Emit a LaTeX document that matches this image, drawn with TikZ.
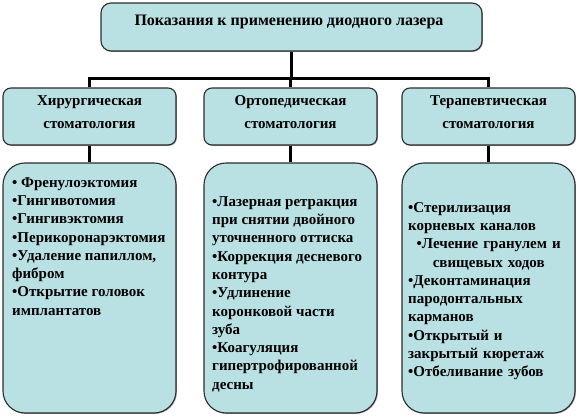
\documentclass[tikz,border=0pt]{standalone}
\usepackage{fontspec}
\setmainfont{Liberation Serif}
\usetikzlibrary{shadows}
\definecolor{boxfill}{RGB}{185,224,227}
\definecolor{boxline}{RGB}{45,45,45}
\begin{document}
\begin{tikzpicture}[x=1pt,y=1pt,
  box/.style={draw=boxline, line width=1.1pt, fill=boxfill, inner sep=0pt,
    drop shadow={shadow xshift=0.9pt, shadow yshift=-0.9pt, opacity=0.55, fill=black!70}},
  topbox/.style={box, rounded corners=10pt, minimum width=381pt, minimum height=48pt},
  midbox/.style={box, rounded corners=8pt, minimum width=173pt, minimum height=57pt},
  lowbox/.style={box, rounded corners=22pt, minimum width=173pt, minimum height=250pt},
  conn/.style={draw=black, line width=2.6pt},
  txt/.style={inner sep=0pt, font=\bfseries\fontsize{15}{18.3}\selectfont},
  ltxt/.style={txt, anchor=north west, align=left},
  mtxt/.style={inner sep=0pt, font=\bfseries\fontsize{15}{23}\selectfont, align=center, anchor=north}
]
\useasboundingbox[fill=white] (0,0) rectangle (579,-417);

% boxes
\node[topbox] (top) at (291.5,-27) {};
\node[midbox] (sa) at (89.5,-116.5) {};
\node[midbox] (sb) at (290.5,-116.5) {};
\node[midbox] (sc) at (488.5,-116.5) {};
\node[lowbox] (la) at (89.5,-288) {};
\node[lowbox] (lb) at (290.5,-288) {};
\node[lowbox] (lc) at (488.5,-288) {};

% connectors
\coordinate (j) at (291.5,-78.5);
\draw[conn] (top.south) -- (j);
\draw[conn] (sa.north) -- (sa.north |- j) -- (sc.north |- j) -- (sc.north);
\draw[conn] (sb.north |- j) -- (sb.north);
\draw[conn] (sa.south) -- (la.north);
\draw[conn] (sb.south) -- (lb.north);
\draw[conn] (sc.south) -- (lc.north);

% texts
\node[inner sep=0pt, font=\bfseries\fontsize{16}{19}\selectfont, anchor=base] (topt) at (289,-26) {Показания к применению диодного лазера};

\node[mtxt] (sat) at (89.5,{-105+12.81*23/18.3}) {\strut Хирургическая\\стоматология};
\node[mtxt] (sbt) at (290.5,{-105+12.81*23/18.3}) {\strut Ортопедическая\\стоматология};
\node[mtxt] (sct) at (488.5,{-105+12.81*23/18.3}) {\strut Терапевтическая\\стоматология};

\node[ltxt] (lat) at (12,{-187+12.81}) {\strut • Френулоэктомия\\
•Гингивотомия\\
•Гингивэктомия\\
•Перикоронарэктомия\\
•Удаление папиллом,\\
фибром\\
•Открытие головок\\
имплантатов};

\node[ltxt] (lbt) at (212,{-206+12.81}) {\strut •Лазерная ретракция\\
при снятии двойного\\
уточненного оттиска\\
•Коррекция десневого\\
контура\\
•Удлинение\\
коронковой части\\
зуба\\
•Коагуляция\\
гипертрофированной\\
десны};

\node[ltxt, text width=161pt] (lct) at (408,{-212+12.81}) {\strut •Стерилизация\\
корневых каналов\\
\makebox[\linewidth]{•Лечение гранулем и}\\
\makebox[\linewidth]{свищевых ходов}\\
•Деконтаминация\\
пародонтальных\\
карманов\\
•Открытый и\\
закрытый кюретаж\\
•Отбеливание зубов};
\end{tikzpicture}
\end{document}
